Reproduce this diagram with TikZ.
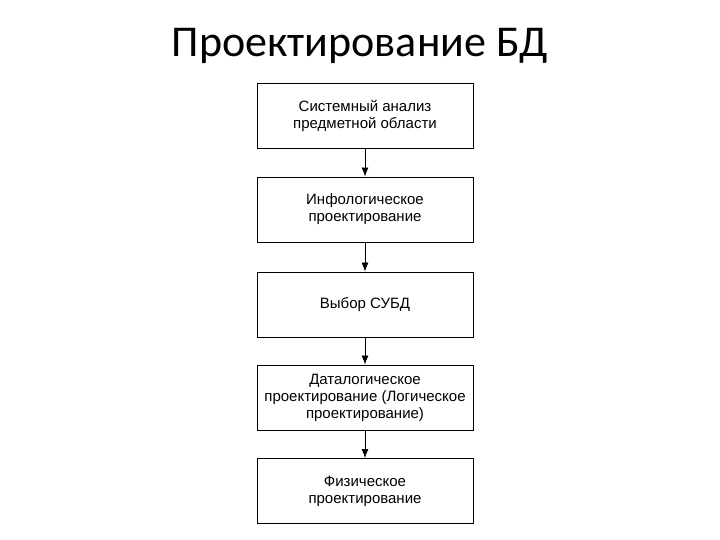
\documentclass[tikz,border=0pt]{standalone}
\usepackage{fontspec}
\setmainfont{Liberation Sans}
\newfontfamily\titlefont{Carlito}
\usetikzlibrary{arrows.meta}
\begin{document}
\begin{tikzpicture}[x=1pt,y=-1pt,
  stepbox/.style={draw,line width=0.9pt,minimum width=216pt,minimum height=65pt,align=center,font=\fontsize{15}{17}\selectfont},
  conn/.style={-{Latex[length=9pt,width=7pt]},line width=0.8pt}]
\useasboundingbox (0,0) rectangle (720,540);
\node[font=\titlefont\fontsize{44}{50}\selectfont] (t) at (360,46) {Проектирование БД};
\node[stepbox] (a) at (365,115.5) {Системный анализ\\предметной области};
\node[stepbox] (b) at (365,209.5) {Инфологическое\\проектирование};
\node[stepbox] (c) at (365,304.5) {Выбор СУБД};
\node[stepbox] (d) at (365,397.5) {Даталогическое\\проектирование (Логическое\\проектирование)};
\node[stepbox] (e) at (365,491) {Физическое\\проектирование};
\draw[conn] (a) -- (b);
\draw[conn] (b) -- (c);
\draw[conn] (c) -- (d);
\draw[conn] (d) -- (e);
\end{tikzpicture}
\end{document}
